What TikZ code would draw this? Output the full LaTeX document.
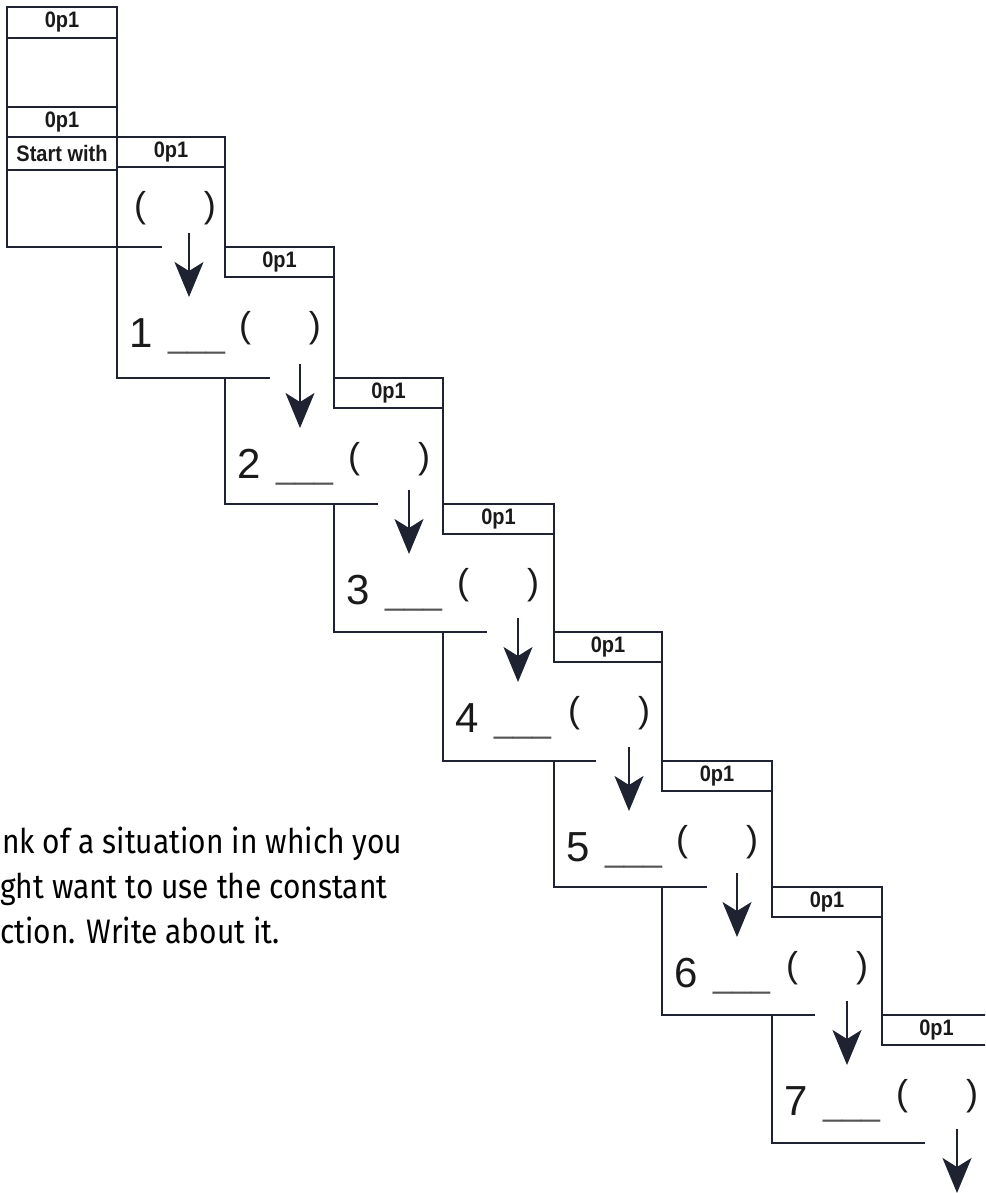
\documentclass[tikz,border=0pt]{standalone}
\usepackage{fontspec}
\setmainfont{Liberation Sans}
\newfontfamily\notefont{Fira Sans}
\usetikzlibrary{arrows.meta}
\definecolor{linec}{HTML}{1E2231}
\definecolor{txt}{HTML}{1A1A1A}
\definecolor{ulc}{HTML}{555555}
\newcommand\stretchlbl[1]{\scalebox{1}[1.12]{#1}}
\newcommand\notetxt[1]{\scalebox{0.88}[1]{#1}}
\tikzset{
  frame/.style={draw=linec, line width=1.8pt},
  hdr/.style={inner sep=0pt, text=txt, font=\fontsize{20}{20}\selectfont\bfseries},
  numtxt/.style={inner sep=0pt, anchor=base west, text=txt, font=\fontsize{42}{42}\selectfont},
  ultxt/.style={inner sep=0pt, anchor=base west, text=ulc, font=\fontsize{34}{34}\selectfont},
  partxt/.style={inner sep=0pt, anchor=base, text=txt, font=\fontsize{36}{36}\selectfont},
  flow/.style={draw=linec, line width=1.8pt, -{Stealth[length=35pt,width=29pt,inset=9pt]}},
  note/.style={inner sep=0pt, anchor=base west, text=black, font=\notefont\fontsize{34}{34}\selectfont},
}
\begin{document}
\begin{tikzpicture}[x=1pt, y=-1pt]
\useasboundingbox (0,0) rectangle (985,1193);
\clip (0,0) rectangle (985,1193);

% start column
\draw[frame] (7,7) rectangle (117,247);
\draw[frame] (7,38) -- (117,38);
\draw[frame] (7,107) -- (117,107);
\draw[frame] (7,137) -- (117,137);
\draw[frame] (7,170) -- (117,170);
\draw[frame] (117,247) -- (162,247);
\node[hdr] (top1) at (62,22.5) {\stretchlbl{0p1}};
\node[hdr] (top2) at (62,122) {\stretchlbl{0p1}};
\node[hdr] (startw) at (62,153.5) {\stretchlbl{Start with}};

% step 0
\draw[frame] (117,137) rectangle (225,167);
\draw[frame] (225,167) -- (225,247);
\node[hdr] (h0) at (171,152) {\stretchlbl{0p1}};
\node[partxt] (p0) at (175,218) {(\hspace{58pt})};
\coordinate (a0s) at (189,233);
\coordinate (a0e) at (189,297);
\draw[flow] (a0s) -- (a0e);

% steps 1..7
\foreach \k/\lp/\l/\ln/\t/\tn in {1/117/225/334/247/378, 2/225/334/443/378/504,
  3/334/443/554/504/632, 4/443/554/662/632/761, 5/554/662/772/761/887,
  6/662/772/882/887/1015, 7/772/882/991/1015/1143}{
  \draw[frame] (\l,\t) rectangle (\ln,{\t+30});
  \draw[frame] (\ln,{\t+30}) -- (\ln,\tn);
  \draw[frame] (\lp,\t) -- (\lp,\tn) -- ({\lp+153},\tn);
  \node[hdr] (h\k) at ({0.5*(\l+\ln)},{\t+15}) {\stretchlbl{0p1}};
  \node[numtxt] (n\k) at ({\lp+12},{\t+100}) {\k};
  \node[ultxt] (u\k) at ({\lp+51},{\t+100}) {\_\_\_};
  \node[partxt] (p\k) at ({\l+55},{\t+90}) {(\hspace{58pt})};
  \coordinate (a\k s) at ({\l+75},{\tn-14});
  \coordinate (a\k e) at ({\l+75},{\tn+50});
  \draw[flow] (a\k s) -- (a\k e);
}

% note text
\node[note] (note1) at (2,853) {\notetxt{nk of a situation in which you}};
\node[note] (note2) at (0,898) {\notetxt{ght want to use the constant}};
\node[note] (note3) at (0,943) {\notetxt{ction. Write about it.}};
\end{tikzpicture}
\end{document}
